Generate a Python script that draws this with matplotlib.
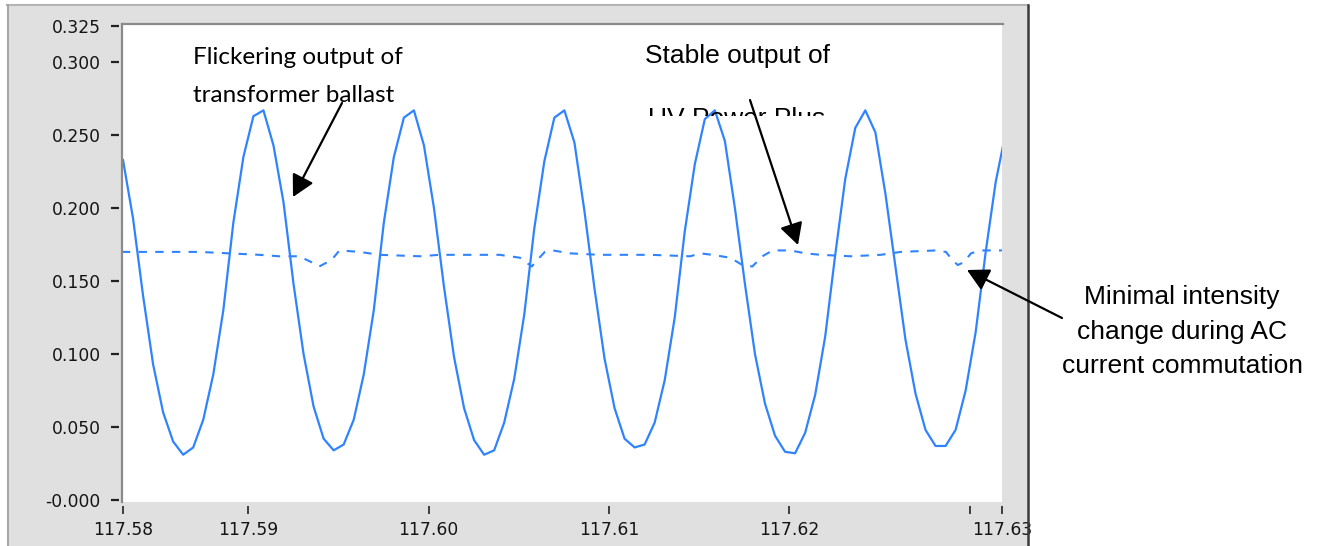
import numpy as np
import matplotlib.pyplot as plt
from matplotlib.patches import Rectangle, FancyArrowPatch
from matplotlib.lines import Line2D
from matplotlib.transforms import Bbox, TransformedBbox

W, H = 1317, 546

# flickering output of the transformer ballast, sampled every ~0.556 ms
t_start = 117.58306
t_step = 0.000556
ballast = [0.233, 0.193, 0.140, 0.093, 0.060, 0.040, 0.031, 0.036, 0.055, 0.086,
           0.130, 0.190, 0.235, 0.263, 0.267, 0.243, 0.204, 0.148, 0.100, 0.064,
           0.042, 0.034, 0.038, 0.055, 0.086, 0.130, 0.190, 0.235, 0.262, 0.267,
           0.243, 0.200, 0.146, 0.098, 0.063, 0.041, 0.031, 0.034, 0.053, 0.083,
           0.127, 0.186, 0.232, 0.262, 0.267, 0.245, 0.198, 0.145, 0.097, 0.063,
           0.042, 0.036, 0.038, 0.053, 0.082, 0.125, 0.184, 0.230, 0.261, 0.267,
           0.246, 0.200, 0.148, 0.100, 0.066, 0.044, 0.033, 0.032, 0.046, 0.072,
           0.112, 0.168, 0.220, 0.255, 0.267, 0.252, 0.210, 0.160, 0.110, 0.073,
           0.048, 0.037, 0.037, 0.048, 0.075, 0.115, 0.170, 0.218, 0.252]
t_ballast = t_start + t_step * np.arange(len(ballast))

# stable output of UV Power Plus
t_stable = [117.58300, 117.58450, 117.58728, 117.58894, 117.59061, 117.59172,
            117.59283, 117.59350, 117.59394, 117.59439, 117.59472, 117.59506,
            117.59617, 117.59728, 117.59950, 117.60061, 117.60394, 117.60506,
            117.60539, 117.60572, 117.60606, 117.60644, 117.60689, 117.60783,
            117.60950, 117.61228, 117.61450, 117.61506, 117.61572, 117.61672,
            117.61739, 117.61794, 117.61850, 117.61906, 117.62006, 117.62089,
            117.62172, 117.62339, 117.62506, 117.62617, 117.62811, 117.62867,
            117.62906, 117.62933, 117.62967, 117.63006, 117.63061, 117.63178]
stable = [0.170, 0.170, 0.170, 0.169, 0.168, 0.167,
          0.167, 0.163, 0.160, 0.163, 0.166, 0.171,
          0.170, 0.168, 0.167, 0.168, 0.168, 0.166,
          0.163, 0.160, 0.165, 0.170, 0.171, 0.169,
          0.168, 0.168, 0.167, 0.169, 0.168, 0.166,
          0.161, 0.160, 0.167, 0.171, 0.171, 0.169,
          0.168, 0.167, 0.168, 0.170, 0.171, 0.170,
          0.164, 0.161, 0.163, 0.169, 0.171, 0.171]

y_ticks = [0.0, 0.05, 0.10, 0.15, 0.20, 0.25, 0.30, 0.325]
y_labels = ["-0.000", "0.050", "0.100", "0.150", "0.200", "0.250", "0.300", "0.325"]
x_ticks = [117.58306, 117.59, 117.60, 117.61, 117.62, 117.63, 117.63178]
x_labels = ["117.58", "117.59", "117.60", "117.61", "117.62", "", "117.63"]

BLUE = "#2f83ff"
PANEL = "#e0e0e0"


def fx(x):
    return x / W


def fy(y):
    return 1 - y / H


fig = plt.figure(figsize=(W / 100, H / 100), dpi=100)
fig.patch.set_facecolor("white")

# grey instrument panel
fig.patches.append(Rectangle((fx(7), 0), fx(1028) - fx(7), fy(5), transform=fig.transFigure,
                             facecolor=PANEL, edgecolor="none", zorder=-10))
fig.add_artist(Line2D([fx(7), fx(1028)], [fy(5), fy(5)], color="#b4b4b4", lw=1.5))
fig.add_artist(Line2D([fx(8), fx(8)], [0, fy(5)], color="#a8a8a8", lw=1.5))
fig.add_artist(Line2D([fx(1028), fx(1028)], [0, fy(5)], color="#3a3a3a", lw=1.8))

ax = fig.add_axes([fx(123), fy(502), fx(1002) - fx(123), fy(25) - fy(502)])
ax.set_facecolor("white")

ax.plot(t_ballast, ballast, color=BLUE, lw=1.6, zorder=3)
ax.plot(t_stable, stable, color=BLUE, lw=1.5, ls=(0, (4.0, 4.0)), zorder=3)

ax.set_xlim(x_ticks[0], x_ticks[-1])
ax.set_ylim(-0.0014, 0.3255)
ax.set_yticks(y_ticks, y_labels)
ax.set_xticks(x_ticks, x_labels)

for s in ["left", "bottom"]:
    ax.spines[s].set_position(("outward", 3))
for s in ax.spines.values():
    s.set_visible(False)

ax.tick_params(axis="y", direction="out", length=6, width=1.6, color="#222222",
               pad=7, labelsize=12.3, labelcolor="#151515")
ax.tick_params(axis="x", direction="out", length=6, width=1.2, color="#222222",
               pad=5, labelsize=12.3, labelcolor="#151515")

# sunken border of the plot area
fig.add_artist(Line2D([fx(122), fx(1003)], [fy(24), fy(24)], color="#8a8a8a", lw=1.6))
fig.add_artist(Line2D([fx(122), fx(122)], [fy(24), fy(502)], color="#8a8a8a", lw=1.6))

# annotations
fig.text(fx(193), fy(64), "Flickering output of", family="Lato", fontsize=17.5,
         va="baseline", ha="left")
fig.text(fx(193), fy(102), "transformer ballast", family="Lato", fontsize=17.5,
         va="baseline", ha="left")
fig.text(fx(645), fy(63), "Stable output of", family="Liberation Sans", fontsize=19,
         va="baseline", ha="left")
uv = fig.text(fx(648), fy(126), "UV Power Plus", family="Liberation Sans", fontsize=19,
              va="baseline", ha="left")
uv.set_clip_box(TransformedBbox(Bbox([[0, fy(116)], [1, 1]]), fig.transFigure))
uv.set_clip_on(True)

for txt, yb in [("Minimal intensity", 304), ("change during AC", 339),
                ("current commutation", 373)]:
    fig.text(fx(1182), fy(yb), txt, family="Liberation Sans", fontsize=19,
             va="baseline", ha="center")

arrows = [((342, 103), (293, 197)), ((750, 100), (798, 245)), ((1062, 318), (967, 270))]
for (x0, y0), (x1, y1) in arrows:
    fig.add_artist(FancyArrowPatch(
        (fx(x0), fy(y0)), (fx(x1), fy(y1)), transform=fig.transFigure,
        arrowstyle="-|>,head_length=0.6,head_width=0.32", mutation_scale=22,
        lw=1.6, color="black", shrinkA=0, shrinkB=0, zorder=5))

fig.savefig("out.png", dpi=100)
